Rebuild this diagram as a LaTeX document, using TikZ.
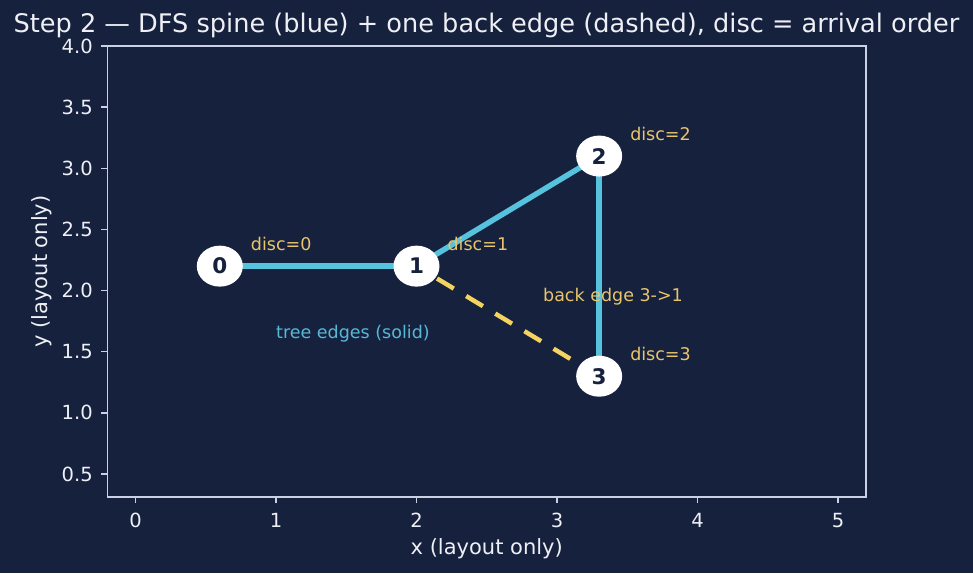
\documentclass[tikz,border=0pt]{standalone}
\usepackage{fontspec}
\setmainfont{DejaVu Sans}
\usetikzlibrary{shapes.geometric}
\pgfdeclarelayer{canvas}
\pgfdeclarelayer{bg}
\pgfsetlayers{canvas,bg,main}
\definecolor{bgnavy}{HTML}{16213E}
\definecolor{framec}{HTML}{C9D1E3}
\definecolor{treeblue}{HTML}{56C2DD}
\definecolor{backyel}{HTML}{F4D35E}
\definecolor{labyel}{HTML}{E9C46A}
\definecolor{treelab}{HTML}{56B9D6}
\definecolor{txtc}{HTML}{EEF0F5}
\tikzset{
  vert/.style={ellipse, fill=white, minimum width=46pt, minimum height=41pt, inner sep=0pt,
    text=bgnavy, font=\fontsize{21.5}{24}\selectfont\bfseries},
  treeedge/.style={draw=treeblue, line width=5.5pt},
  backedge/.style={draw=backyel, line width=4.5pt, dash pattern=on 19.5pt off 14.5pt, dash phase=10pt},
  disclab/.style={anchor=west, inner sep=0pt, text=labyel, font=\fontsize{17.5}{20}\selectfont},
  ticklab/.style={inner sep=0pt, text=txtc, font=\fontsize{19.5}{22}\selectfont},
  axlab/.style={inner sep=0pt, text=txtc, font=\fontsize{21}{24}\selectfont},
}
\begin{document}
\begin{tikzpicture}
\begin{pgfonlayer}{canvas}
\fill[bgnavy] (0,0) rectangle (973pt,573pt);
\end{pgfonlayer}
\useasboundingbox (0,0) rectangle (973pt,573pt);
% title
\node[anchor=base, inner sep=0pt, text=txtc, font=\fontsize{25.6}{29}\selectfont] (title) at (486.5pt,540pt)
  {Step 2 — DFS spine (blue) + one back edge (dashed), disc = arrival order};
\begin{scope}[shift={(135.5pt,37.8pt)}, x=140.5pt, y=122.3pt]
  % frame
  \draw[framec, line width=1.5pt] (-0.2,0.312) rectangle (5.2,4.0);
  % x ticks
  \foreach \t in {0,1,2,3,4,5}{
    \draw[framec, line width=1.3pt] (\t,0.312) -- ++(0,-6pt);
    \node[ticklab, anchor=base] (xt\t) at (\t,0.062) {\t};
  }
  % y ticks
  \foreach \t in {0.5,1.0,1.5,2.0,2.5,3.0,3.5,4.0}{
    \draw[framec, line width=1.3pt] (-0.2,\t) -- ++(-6pt,0);
    \node[ticklab, anchor=east] at ([xshift=-14.5pt]-0.2,\t) {\t};
  }
  \node[axlab, anchor=base] (xlab) at (2.5,-0.161) {x (layout only)};
  \node[axlab, rotate=90] (ylab) at ([xshift=-93.5pt]0,2.156) {y (layout only)};
  % vertices
  \node[vert] (n0) at (0.6,2.2) {0};
  \node[vert] (n1) at (2.0,2.2) {1};
  \node[vert] (n2) at (3.3,3.1) {2};
  \node[vert] (n3) at (3.3,1.3) {3};
  \begin{pgfonlayer}{bg}
    \draw[treeedge] (n0.center) -- (n1.center);
    \draw[treeedge] (n1.center) -- (n2.center);
    \draw[treeedge] (n2.center) -- (n3.center);
    \draw[backedge] (n1.center) -- (n3.center);
  \end{pgfonlayer}
  % labels
  \node[disclab] (d0) at (0.82,2.38) {disc=0};
  \node[disclab] (d1) at (2.22,2.38) {disc=1};
  \node[disclab] (d2) at (3.52,3.28) {disc=2};
  \node[disclab] (d3) at (3.52,1.48) {disc=3};
  \node[disclab] (bl) at (2.9,1.95) {back edge 3->1};
  \node[disclab, text=treelab] (tl) at (1.0,1.65) {tree edges (solid)};
\end{scope}
\end{tikzpicture}
\end{document}
